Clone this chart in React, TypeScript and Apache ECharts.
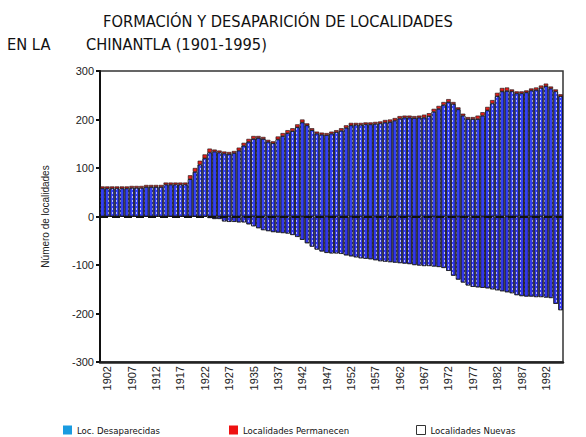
import React, { useEffect, useRef } from "react";
import * as echarts from "echarts";

const years: string[] = Array.from({ length: 95 }, (_, i) => String(1901 + i));

const tickLabels = [
  "1902", "1907", "1912", "1917", "1922", "1927", "1935", "1937", "1942", "1947",
  "1952", "1957", "1962", "1967", "1972", "1977", "1982", "1987", "1992",
];

const desaparecidas = [
  0, 0, 0, 0, 0, 0, 0, 0, 0, 0, 0, 0, 0, 0, 0, 0, 0, 0, 0, 0, 0, 0,
  -3, -5, -5,
  -10, -11, -11, -12, -12,
  -16, -20, -24, -28, -30,
  -32, -33, -34, -35,
  -38, -42, -48, -55, -62, -68, -72,
  -75, -76, -76, -77,
  -80, -82, -84, -86, -87,
  -88, -90, -92, -93, -94,
  -95, -96, -97, -98, -100,
  -101, -102, -102, -103, -104,
  -106, -112, -122, -130, -136, -142, -145,
  -146, -147, -148, -150,
  -152, -154, -156, -158,
  -162, -164, -165, -165,
  -166, -166, -167, -168,
  -180, -193,
];

const permanecen = [
  58, 58, 58, 58, 58, 58,
  59, 59, 59,
  61, 61, 61, 61,
  66, 66, 66, 66, 66,
  77, 92, 107, 120, 132,
  134, 132, 130, 129, 131,
  136, 146, 154, 160, 162,
  160, 154, 151,
  159, 166, 172, 176, 184, 194,
  188, 178, 171, 169, 168, 171, 174,
  177, 183, 188,
  189, 189, 190, 190, 191, 192,
  194, 195, 198, 202,
  204, 204, 203, 204,
  204, 207, 216, 222, 230, 236,
  232, 221, 208, 201, 201,
  201, 208, 219, 233, 248, 258, 259,
  258, 254, 254, 256, 260,
  261, 265, 269,
  264, 258, 248,
];

const nuevas = [
  4, 4, 4, 4, 4, 4, 4, 4, 4, 4, 4, 4, 4, 4, 4, 4, 4, 4,
  8, 8, 8, 8, 8,
  4, 4, 4, 4, 4,
  6, 6, 6, 6, 4,
  4, 4, 4,
  6, 6, 6, 6, 6, 6,
  4, 4, 4, 4, 4, 4, 4,
  5, 5, 5,
  4, 4, 4, 4, 4, 4,
  5, 5, 5, 5,
  4, 4, 4, 4,
  6, 6, 6, 6, 6, 6,
  4, 4, 4, 4, 4,
  7, 7, 7, 7, 7, 7, 7,
  4, 4, 4, 4, 4,
  5, 5, 5,
  4, 4, 4,
];

const legendNames = ["Loc. Desaparecidas", "Localidades Permanecen", "Localidades Nuevas"];

const NARROW = "'Liberation Sans Narrow', 'DejaVu Sans Condensed', 'Roboto', sans-serif";
const ARIAL = "'Liberation Sans', Arial, sans-serif";

const dots = {
  symbol: "rect",
  symbolSize: 1,
  color: "rgba(255,255,255,0.65)",
  dashArrayX: [1, 3],
  dashArrayY: [2, 2],
  rotation: 0,
};

export default function App() {
  const ref = useRef<HTMLDivElement>(null);
  useEffect(() => {
    document.body.style.margin = "0";
    if (!ref.current) return;
    const chart = echarts.init(ref.current, undefined, { renderer: "svg" });
    const barBase = {
      type: "bar" as const,
      stack: "total",
      barCategoryGap: "8%",
    };
    const legendBase = {
      top: 425,
      padding: 0,
      itemWidth: 9,
      itemHeight: 9,
      itemGap: 6,
      icon: "rect",
      textStyle: { fontFamily: NARROW, fontSize: 9.5, color: "#111" },
    };
    chart.setOption({
      animation: false,
      backgroundColor: "#ffffff",
      grid: {
        left: 100,
        right: 23,
        top: 71,
        bottom: 75,
        show: true,
        borderColor: "#333",
        borderWidth: 1.5,
      },
      graphic: [
        {
          type: "text",
          left: 103,
          top: 13,
          style: { text: "FORMACIÓN Y DESAPARICIÓN DE LOCALIDADES", font: `16.3px ${NARROW}`, fill: "#111" },
        },
        {
          type: "text",
          left: 7,
          top: 36,
          style: { text: "EN LA", font: `16.3px ${NARROW}`, fill: "#111" },
        },
        {
          type: "text",
          left: 86,
          top: 36,
          style: { text: "CHINANTLA (1901-1995)", font: `16.3px ${NARROW}`, fill: "#111" },
        },
      ],
      legend: [
        {
          ...legendBase,
          left: 63,
          data: [{ name: legendNames[0], itemStyle: { color: "#1a9be0", borderWidth: 0, decal: "none" } }],
        },
        {
          ...legendBase,
          left: 229,
          data: [{ name: legendNames[1], itemStyle: { color: "#ee1111", borderWidth: 0, decal: "none" } }],
        },
        {
          ...legendBase,
          left: 416,
          data: [{ name: legendNames[2], itemStyle: { color: "#ffffff", borderColor: "#333", borderWidth: 1, decal: "none" } }],
        },
      ],
      xAxis: {
        type: "category",
        data: years,
        axisLine: { onZero: false, lineStyle: { color: "#222", width: 2.5 } },
        axisTick: { show: false },
        axisLabel: {
          rotate: 90,
          fontFamily: ARIAL,
          fontSize: 11,
          color: "#222",
          margin: 4,
          interval: (index: number) => (index - 1) % 5 === 0,
          formatter: (_v: string, index: number) => tickLabels[(index - 1) / 5] ?? "",
        },
      },
      yAxis: {
        type: "value",
        min: -300,
        max: 300,
        interval: 100,
        name: "Número de localidades",
        nameLocation: "middle",
        nameGap: 50,
        nameTextStyle: { fontFamily: ARIAL, fontSize: 10, color: "#222" },
        axisLine: { show: true, lineStyle: { color: "#111", width: 2 } },
        axisTick: { show: true, length: 4, lineStyle: { color: "#111", width: 2 } },
        axisLabel: { fontFamily: ARIAL, fontSize: 11, color: "#222", margin: 6 },
        splitLine: { show: false },
      },
      series: [
        {
          ...barBase,
          name: legendNames[0],
          data: desaparecidas,
          itemStyle: { color: "#3236ea", borderColor: "#111", borderWidth: 0.6, decal: dots },
        },
        {
          ...barBase,
          name: legendNames[1],
          data: permanecen,
          itemStyle: { color: "#3340f5", borderColor: "#111", borderWidth: 0.6, decal: dots },
          markLine: {
            silent: true,
            symbol: "none",
            label: { show: false },
            lineStyle: { color: "#111", width: 2, type: "dashed" },
            data: [{ yAxis: 0 }],
          },
        },
        {
          ...barBase,
          name: legendNames[2],
          data: nuevas,
          itemStyle: { color: "#e8201c", borderColor: "#111", borderWidth: 0.6 },
        },
      ],
    });
    return () => chart.dispose();
  }, []);
  return <div ref={ref} style={{ width: 586, height: 437 }} />;
}
